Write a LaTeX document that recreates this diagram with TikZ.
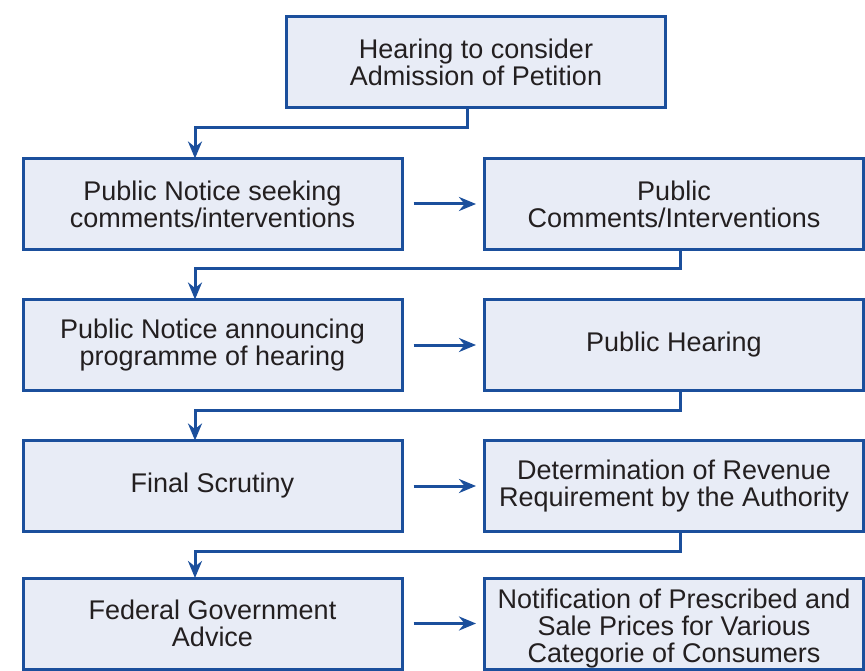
\documentclass[tikz,border=0pt]{standalone}
\usepackage{fontspec}
\setmainfont{Liberation Sans}
\usetikzlibrary{arrows.meta}
\definecolor{boxblue}{HTML}{1B4F9C}
\definecolor{boxfill}{HTML}{E8ECF6}
\definecolor{txt}{HTML}{231F20}
\begin{document}
\begin{tikzpicture}[x=1pt,y=-1pt,
  steptext/.style={align=center, text=txt, font=\fontsize{27}{27}\selectfont},
  stepbox/.style={steptext, draw=boxblue, fill=boxfill, line width=3pt,
    minimum width=379pt, minimum height=91pt, inner sep=0pt},
  flow/.style={draw=boxblue, line width=3pt,
    -{Stealth[length=17pt,width=14pt]}}]
\useasboundingbox (0,0) rectangle (865,671);

% stages of the tariff process
\node[stepbox] (top) at (476,62) {Hearing to consider\\Admission of Petition};
\node[stepbox] (L1) at (212.5,204) {Public Notice seeking\\comments/interventions};
\node[stepbox] (R1) at (674,204) {Public\\Comments/Interventions};
\node[stepbox] (L2) at (212.5,345) {Public Notice announcing\\programme of hearing};
\node[stepbox] (R2) at (674,345) {Public Hearing};
\node[stepbox] (L3) at (212.5,486) {Final Scrutiny};
\node[stepbox] (R3) at (674,486) {Determination of Revenue\\Requirement by the Authority};
\node[stepbox] (L4) at (212.5,623.5) {Federal Government\\Advice};
\node[stepbox] (R4) at (674,623.5) {};
\node[steptext] (R4text) at ([yshift=-5pt]R4.center)
  {Notification of Prescribed and\\Sale Prices for Various\\Categorie of Consumers};

% horizontal links within each row
\foreach \i in {1,...,4}
  \draw[flow] ([xshift=10pt]L\i.east) -- ([xshift=-7pt]R\i.west);

% elbow links down to the next row
\draw[flow] ([xshift=-9pt]top.south) -- ++(0,19) -| ([xshift=-17.5pt,yshift=-1.5pt]L1.north);
\draw[flow] ([xshift=6pt]R1.south) -- ++(0,18) -| ([xshift=-17.5pt,yshift=-1.5pt]L2.north);
\draw[flow] ([xshift=6pt]R2.south) -- ++(0,18) -| ([xshift=-17.5pt,yshift=-1.5pt]L3.north);
\draw[flow] ([xshift=6pt]R3.south) -- ++(0,18) -| ([xshift=-17.5pt,yshift=-1.5pt]L4.north);
\end{tikzpicture}
\end{document}
